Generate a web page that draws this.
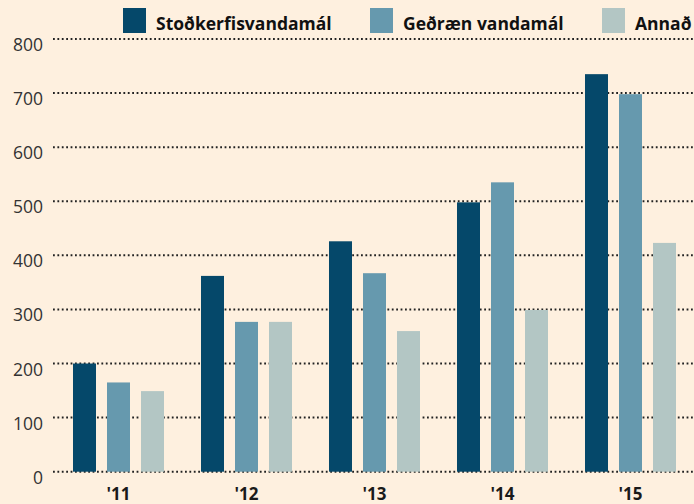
<!DOCTYPE html>
<html>
<head>
<meta charset="utf-8">
<script src="https://cdn.jsdelivr.net/npm/d3@7"></script>
<style>
  body { margin: 0; background: #fef0df; }
  svg { display: block; }
</style>
</head>
<body>
<div id="chart"></div>
<script>
const years = ["'11", "'12", "'13", "'14", "'15"];
const seriesNames = ["Stoðkerfisvandamál", "Geðræn vandamál", "Annað"];
const stodkerfi = [200, 362, 426, 498, 735];
const gedraen = [165, 277, 367, 535, 698];
const annad = [149, 277, 260, 299, 423];
const yTicks = [0, 100, 200, 300, 400, 500, 600, 700, 800];

const colors = ["#05486a", "#6699ae", "#b3c6c4"];
const allSeries = [stodkerfi, gedraen, annad];

const width = 694;
const height = 504;
const margin = { top: 39, right: 0, bottom: 32, left: 54 };

const data = years.map((y, i) => ({
  year: y,
  values: seriesNames.map((s, j) => ({ name: s, value: allSeries[j][i] }))
}));

const svg = d3
  .select("#chart")
  .append("svg")
  .attr("width", width)
  .attr("height", height);

svg.append("rect").attr("width", width).attr("height", height).attr("fill", "#fef0df");

const x0 = d3
  .scaleBand()
  .domain(years)
  .range([margin.left + 0.5, width + 0.5])
  .paddingInner(0.289)
  .paddingOuter(0.1445);

const x1 = d3
  .scaleBand()
  .domain(seriesNames)
  .range([0, x0.bandwidth()])
  .paddingInner(0.3235)
  .paddingOuter(0);

const yScale = d3
  .scaleLinear()
  .domain([0, 800])
  .range([height - margin.bottom - 0.3, margin.top]);

// grid
svg
  .append("g")
  .selectAll("line")
  .data(yTicks)
  .enter()
  .append("line")
  .attr("x1", margin.left - 1)
  .attr("x2", width)
  .attr("y1", (d) => yScale(d))
  .attr("y2", (d) => yScale(d))
  .attr("stroke", "#222")
  .attr("stroke-width", 2)
  .attr("stroke-dasharray", "1.8,2.6");

// y labels (sit just below their line)
svg
  .append("g")
  .selectAll("text")
  .data(yTicks)
  .enter()
  .append("text")
  .attr("x", 43)
  .attr("y", (d) => yScale(d) + 12)
  .attr("text-anchor", "end")
  .attr("font-family", "'Open Sans', sans-serif")
  .attr("font-size", 17.5)
  .attr("fill", "#333")
  .text((d) => d);

// bars
const groups = svg
  .append("g")
  .selectAll("g")
  .data(data)
  .enter()
  .append("g")
  .attr("transform", (d) => `translate(${x0(d.year)},0)`);

groups
  .selectAll("rect")
  .data((d) => d.values)
  .enter()
  .append("rect")
  .attr("x", (d) => x1(d.name))
  .attr("y", (d) => yScale(d.value))
  .attr("width", x1.bandwidth())
  .attr("height", (d) => yScale(0) - yScale(d.value))
  .attr("fill", (d, i) => colors[i]);

// x labels
svg
  .append("g")
  .selectAll("text")
  .data(years)
  .enter()
  .append("text")
  .attr("x", (d) => x0(d) + x0.bandwidth() / 2)
  .attr("y", 500)
  .attr("text-anchor", "middle")
  .attr("font-family", "'Open Sans', sans-serif")
  .attr("font-weight", "bold")
  .attr("font-size", 17)
  .attr("fill", "#1a1a1a")
  .text((d) => d);

// legend
const legendX = [123, 370, 602];
const legend = svg
  .append("g")
  .selectAll("g")
  .data(seriesNames)
  .enter()
  .append("g")
  .attr("transform", (d, i) => `translate(${legendX[i]},8)`);

legend
  .append("rect")
  .attr("width", 23)
  .attr("height", 25)
  .attr("fill", (d, i) => colors[i]);

legend
  .append("text")
  .attr("x", 33)
  .attr("y", 22)
  .attr("font-family", "'Open Sans', sans-serif")
  .attr("font-weight", "bold")
  .attr("font-size", 17.5)
  .attr("fill", "#111")
  .text((d) => d);
</script>
</body>
</html>
